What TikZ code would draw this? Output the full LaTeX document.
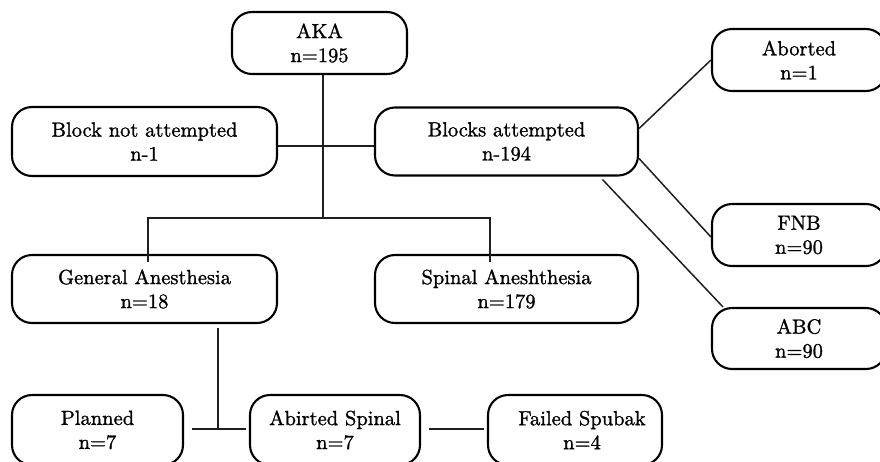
\documentclass[tikz,border=0pt]{standalone}
\usepackage{fontspec}
\newfontfamily\boxfont{lmroman10-regular}[Extension=.otf,BoldFont=lmroman10-regular,BoldFeatures={FakeBold=1.2}]
\begin{document}
\begin{tikzpicture}[x=1pt,y=-1pt,
  box/.style={draw=black,line width=2.1pt,rounded corners=20pt,inner sep=0pt,align=center,
    font=\boxfont\bfseries\fontsize{20.5}{24}\selectfont,minimum height=#1},
  box/.default=62pt,
  conn/.style={line width=1.8pt,draw=black!88},
  diag/.style={line width=1.5pt,draw=black!88}]
\useasboundingbox (0,0) rectangle (880,461);
\clip (0,0) rectangle (880,461);
% boxes
\node[box, minimum width=175pt] (aka) at (319.5,43) {AKA\\n=195};
\node[box=69pt, minimum width=265pt] (bna) at (144.5,141.5) {Block not attempted\\n-1};
\node[box=68pt, minimum width=263pt] (ba) at (506.5,141.5) {Blocks attempted\\n-194};
\node[box=68pt, minimum width=265pt] (ga) at (144.5,289) {General Anesthesia\\n=18};
\node[box=68pt, minimum width=263pt] (sa) at (506.5,289) {Spinal Aneshthesia\\n=179};
\node[box, minimum width=174pt] (ab) at (799,60) {Aborted\\n=1};
\node[box, minimum width=174pt] (fnb) at (799,235) {FNB\\n=90};
\node[box=61pt, minimum width=174pt] (abc) at (799,338.5) {ABC\\n=90};
\node[box=70pt, minimum width=171pt] (pl) at (97.5,430) {Planned\\n=7};
\node[box=70pt, minimum width=170pt] (as) at (335,430) {Abirted Spinal\\n=7};
\node[box=70pt, minimum width=174pt] (fs) at (575,430) {\hspace*{14pt}Failed Spubak\\\hspace*{14pt}n=4};
% junctions
\coordinate (j0) at (323,146);
\coordinate (j1) at (323,218);
\coordinate (jl) at (148,218);
\coordinate (jr) at (490,218);
\coordinate (j2) at (218,429);
% connectors
\draw[conn] (aka.south -| j1) -- (j1);
\draw[conn] (bna.east |- j0) -- (ba.west |- j0);
\draw[conn] ([yshift=-8pt]jl |- ga.north) -- (jl) -- (jr) -- ([yshift=-8pt]jr |- sa.north);
\draw[conn] ([yshift=-4pt]ga.south -| j2) -- (j2);
\draw[conn] ([xshift=8pt]pl.east |- j2) -- ([xshift=-3pt]as.west |- j2);
\draw[conn] ([xshift=8pt]as.east |- j2) -- ([xshift=-3pt]fs.west |- j2);
\draw[diag] ([yshift=13pt]ba.east) -- (ab.west);
\draw[diag] ([yshift=-17pt]ba.east) -- ([yshift=-2pt]fnb.west);
\draw[diag] ([xshift=96pt,yshift=-3pt]ba.south) -- ([xshift=-76pt]abc.north);
\end{tikzpicture}
\end{document}
